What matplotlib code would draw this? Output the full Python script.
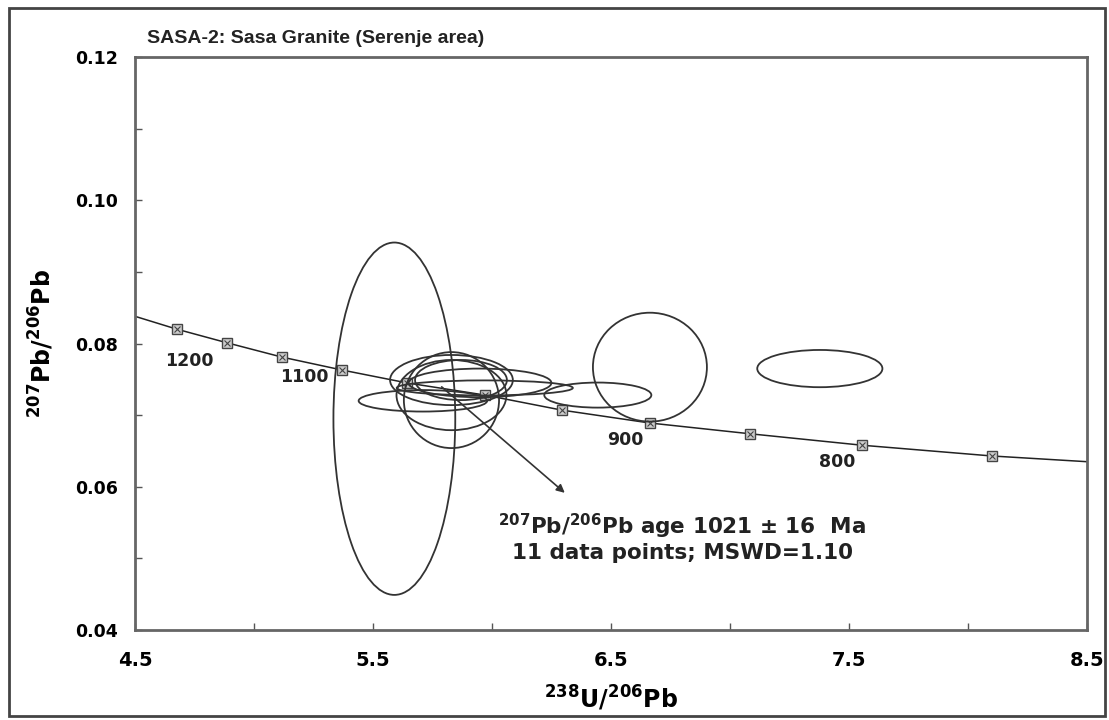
import numpy as np
import matplotlib.pyplot as plt
from matplotlib.patches import Ellipse, Rectangle

plt.rcParams['font.family'] = ['DejaVu Sans']
plt.rcParams['mathtext.fontset'] = 'dejavusans'

# concordia markers (50 Ma steps, 1250 -> 750 Ma)
conc_x = [4.5, 4.676, 4.887, 5.118, 5.370, 5.643, 5.971, 6.294, 6.664, 7.084, 7.555, 8.10, 8.5]
conc_y = [0.0838, 0.0820, 0.0801, 0.0781, 0.0763, 0.0745, 0.0728, 0.0707, 0.0689, 0.0674, 0.0658, 0.0643, 0.0635]
age_labels = ['1200', '1100', '900', '800']
age_lx = [4.73, 5.21, 6.56, 7.45]
age_ly = [0.0776, 0.0753, 0.0665, 0.0635]

# error ellipses: centre x, centre y, half width, half height
ell_x = [5.59, 6.664, 7.378, 6.445, 5.97, 5.71, 5.83, 5.87, 5.83, 5.83, 5.95]
ell_y = [0.0695, 0.0767, 0.0765, 0.0728, 0.0738, 0.0720, 0.0749, 0.0749, 0.0728, 0.0721, 0.0745]
ell_w = [0.256, 0.2395, 0.263, 0.225, 0.37, 0.27, 0.258, 0.193, 0.231, 0.20, 0.30]
ell_h = [0.0246, 0.0076, 0.0026, 0.00175, 0.00105, 0.0015, 0.0035, 0.0028, 0.0049, 0.0067, 0.0020]

xticks = [4.5, 5.5, 6.5, 7.5, 8.5]
yticks = [0.04, 0.06, 0.08, 0.10, 0.12]

fig = plt.figure(figsize=(11.09, 7.2), dpi=100)
ax = fig.add_axes([0.1217, 0.125, 0.980 - 0.1217, 0.9208 - 0.125])

# outer frame
fig.patches.append(Rectangle((0.008, 0.006), 0.988, 0.983, transform=fig.transFigure,
                             fill=False, edgecolor='#444444', lw=2))

# concordia
ax.plot(conc_x, conc_y, color='#222222', lw=1.1, zorder=2)
ax.plot(conc_x[1:-1], conc_y[1:-1], 's', ms=7, mfc='#cccccc', mec='#444444', mew=1, zorder=3)
ax.plot(conc_x[1:-1], conc_y[1:-1], 'x', ms=4, mec='#444444', mew=0.8, zorder=4)
for s, x, y in zip(age_labels, age_lx, age_ly):
    ax.text(x, y, s, ha='center', va='center', fontsize=12.5, fontweight='bold', color='#222222')

# ellipses
for x, y, w, h in zip(ell_x, ell_y, ell_w, ell_h):
    ax.add_patch(Ellipse((x, y), 2 * w, 2 * h, fill=False, edgecolor='#333333', lw=1.3, zorder=5))

# arrow + age text
ax.annotate('', xy=(6.315, 0.0589), xytext=(5.78, 0.0742),
            arrowprops=dict(arrowstyle='-|>', color='#333333', lw=1.2, mutation_scale=12))
ax.text(6.80, 0.0545, r'$^{\mathbf{207}}$Pb/$^{\mathbf{206}}$Pb age 1021 ± 16  Ma', ha='center', va='center',
        fontsize=15.5, fontweight='bold', color='#222222')
ax.text(6.80, 0.0508, '11 data points; MSWD=1.10', ha='center', va='center',
        fontsize=15.5, fontweight='bold', color='#222222')

ax.set_xlim(4.5, 8.5)
ax.set_ylim(0.04, 0.12)
ax.set_xticks(xticks)
ax.set_xticks(np.arange(4.5, 8.51, 0.5), minor=True)
ax.set_yticks(yticks)
ax.set_yticks(np.arange(0.04, 0.1201, 0.01), minor=True)
ax.set_xticklabels([f'{v:.1f}' for v in xticks], fontsize=14, fontweight='bold')
ax.set_yticklabels([f'{v:.2f}' for v in yticks], fontsize=12.5, fontweight='bold')
ax.tick_params(which='both', direction='in', top=False, right=False, color='#555555')
ax.tick_params(which='major', length=5, width=1)
ax.tick_params(which='minor', length=5, width=1)
ax.tick_params(axis='x', pad=15)
ax.tick_params(axis='y', pad=12)
for sp in ax.spines.values():
    sp.set_color('#666666')
    sp.set_linewidth(2)

ax.set_xlabel(r'$^{\mathbf{238}}$U/$^{\mathbf{206}}$Pb', fontsize=17, fontweight='bold', labelpad=10)
ax.set_ylabel(r'$^{\mathbf{207}}$Pb/$^{\mathbf{206}}$Pb', fontsize=17, fontweight='bold', labelpad=14)
fig.text(0.133, 0.947, 'SASA-2: Sasa Granite (Serenje area)', fontsize=14, fontweight='bold',
         family='Liberation Sans', color='#222222', ha='left', va='center')

fig.savefig('out.png', dpi=100)
